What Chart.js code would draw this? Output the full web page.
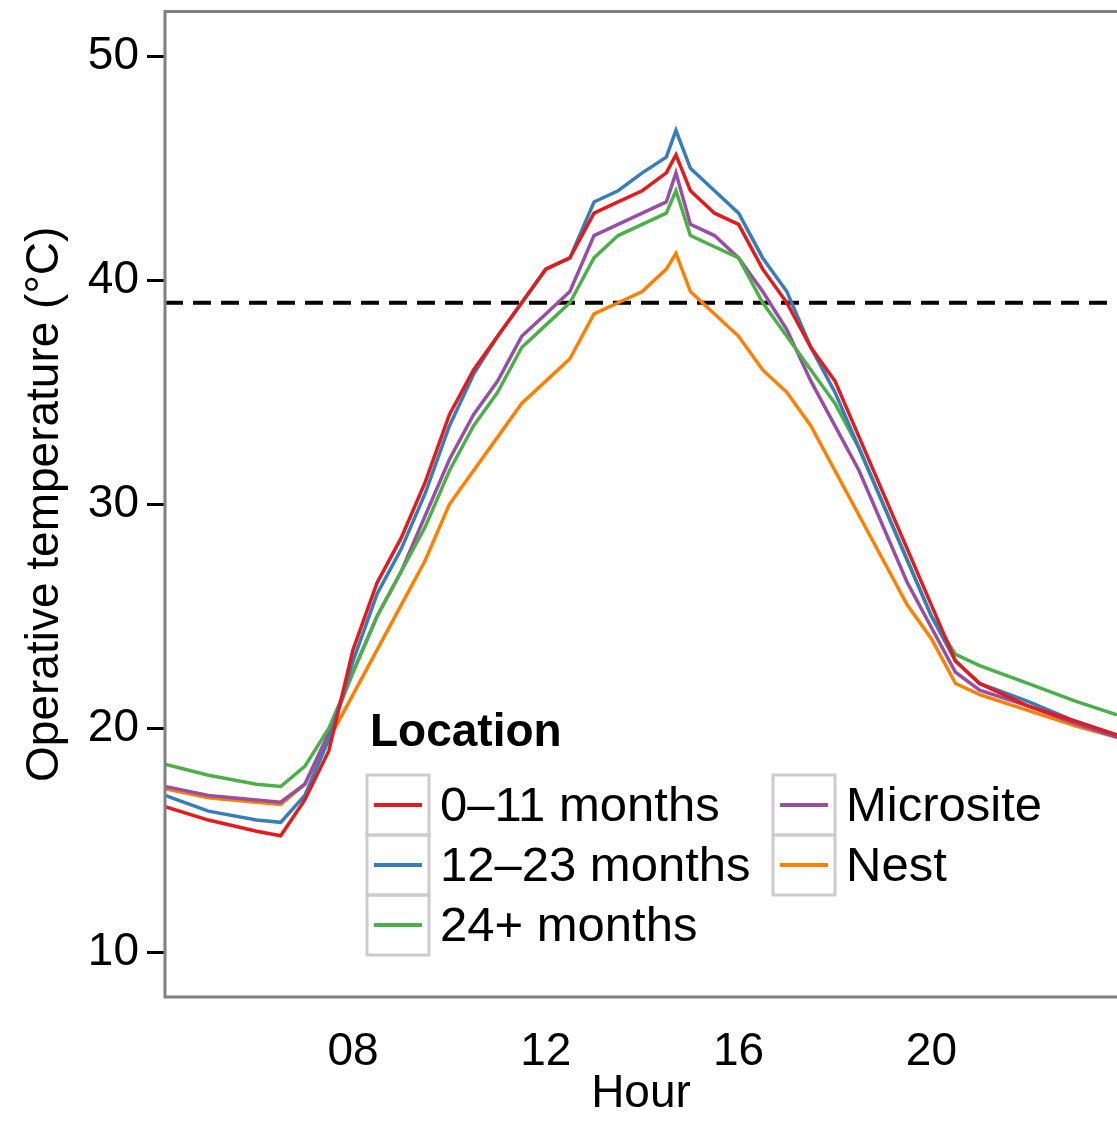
<!DOCTYPE html>
<html><head><meta charset="utf-8">
<script src="https://cdn.jsdelivr.net/npm/chart.js@4"></script>
<style>html,body{margin:0;padding:0;background:#fff;overflow:hidden}#w{width:1117px;height:1150px;margin-top:-24px}</style>
</head><body><div id="w"><canvas id="c"></canvas></div>
<script>
const hours = [4.1,5,6,6.5,7,7.5,8,8.5,9,9.5,10,10.5,11,11.5,12,12.5,13,13.5,14,14.5,14.7,15,15.5,16,16.5,17,17.5,18,18.5,19,19.5,20,20.5,21,22,23,23.85];
const s0_11 = [16.5,15.9,15.4,15.2,16.8,19,23.5,26.5,28.5,31,34,36,37.5,39,40.5,41,43,43.5,44,44.8,45.6,44,43,42.5,40.5,39,37,35.5,33,30.5,28,25.5,23,22,21,20.3,19.7];
const s12_23 = [17,16.3,15.9,15.8,17,19.5,23,26,28,30.5,33.5,35.8,37.5,39,40.5,41,43.5,44,44.8,45.5,46.7,45,44,43,41,39.5,37,35,32.5,30,27.5,25,23,22,21.2,20.3,19.7];
const s24 = [18.4,17.9,17.5,17.4,18.3,20,22.5,25,27,29,31.5,33.5,35,37,38,39,41,42,42.5,43,44,42,41.5,41,39,37.5,36,34.5,32.5,30,27.5,25,23.3,22.8,22,21.2,20.6];
const sMicro = [17.4,17.0,16.8,16.7,17.5,19.8,22.5,25,27,29.5,32,34,35.5,37.5,38.5,39.5,42,42.5,43,43.5,44.8,42.5,42,41,39.5,37.8,35.5,33.5,31.5,29,26.5,24.5,22.5,21.7,21,20.2,19.6];
const sNest = [17.3,16.9,16.7,16.6,17.5,19.5,21.5,23.5,25.5,27.5,30,31.5,33,34.5,35.5,36.5,38.5,39,39.5,40.5,41.2,39.5,38.5,37.5,36,35,33.5,31.5,29.5,27.5,25.5,24,22,21.5,20.8,20.1,19.6];
const seriesNames = ['0–11 months','12–23 months','24+ months','Microsite','Nest'];
const colors = ['#e41a1c','#377eb8','#4daf4a','#984ea3','#ff7f00'];
const threshold = 39;
const xTicks = [8,12,16,20];
const yTicks = [10,20,30,40,50];
const all = [s0_11,s12_23,s24,sMicro,sNest];
const F = '"Liberation Sans", Arial, sans-serif';
const OFF = 24;
const datasets = all.map((s,i)=>({label:seriesNames[i],data:hours.map((h,j)=>({x:h,y:s[j]})),borderColor:colors[i],borderWidth:3.5,pointRadius:0,tension:0}));
datasets.push({label:'thr',data:[{x:4.1,y:threshold},{x:23.85,y:threshold}],borderColor:'#000',borderWidth:4,borderDash:[18,10],pointRadius:0});
const frame = {id:'frame',afterDraw(ch){const a=ch.chartArea,c=ch.ctx;c.save();c.strokeStyle='#808080';c.lineWidth=3;
c.beginPath();c.moveTo(1117,a.top);c.lineTo(a.left,a.top);c.lineTo(a.left,a.bottom);c.lineTo(1117,a.bottom);c.stroke();
c.fillStyle='#000';c.font='bold 46px '+F;c.textBaseline='middle';c.fillText('Location',370,733+OFF);
c.font='49px '+F;
const pos=[[367,805],[367,865],[367,925],[773,805],[773,865]];
pos.forEach((p,i)=>{const y=p[1]+OFF;c.strokeStyle='#cccccc';c.lineWidth=3;c.strokeRect(p[0],y-30,62,60);
c.strokeStyle=colors[i];c.lineWidth=4;c.beginPath();c.moveTo(p[0]+7,y);c.lineTo(p[0]+55,y);c.stroke();
c.fillStyle='#000';c.fillText(seriesNames[i],p[0]+73,y+2);});
c.restore();}};
new Chart(document.getElementById('c'),{type:'line',data:{datasets},plugins:[frame],
options:{responsive:true,maintainAspectRatio:false,animation:false,layout:{padding:{top:-16,right:0,left:14}},
plugins:{legend:{display:false},tooltip:{enabled:false}},
scales:{
x:{type:'linear',min:4.1,max:23.85,afterBuildTicks(s){s.ticks=xTicks.map(v=>({value:v}));},
afterFit(s){s.height=129;},
grid:{display:false,drawOnChartArea:false,tickLength:18,tickColor:'#000',lineWidth:3},border:{display:false},
ticks:{color:'#000',font:{family:F,size:46},padding:10,maxRotation:0,callback:v=>String(v).padStart(2,'0')},
title:{display:true,text:'Hour',color:'#000',font:{family:F,size:46},padding:{top:0}}},
y:{min:8,max:52,afterBuildTicks(s){s.ticks=yTicks.map(v=>({value:v}));},
afterFit(s){s.width=151;},
grid:{drawOnChartArea:false,tickLength:18,tickColor:'#000',lineWidth:3},border:{display:false},
ticks:{color:'#000',font:{family:F,size:46},padding:8},
title:{display:true,text:'Operative temperature (°C)',color:'#000',font:{family:F,size:46},padding:{bottom:4}}}}}});
</script></body></html>
